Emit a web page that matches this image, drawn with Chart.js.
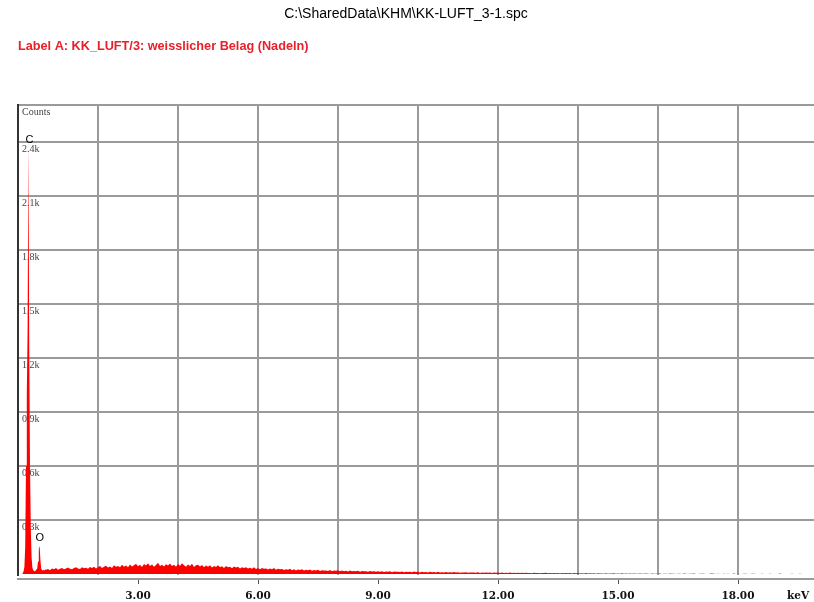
<!DOCTYPE html>
<html>
<head>
<meta charset="utf-8">
<script src="https://cdn.jsdelivr.net/npm/chart.js@4/dist/chart.umd.min.js"></script>
<style>
  html, body { margin: 0; padding: 0; background: #ffffff; }
  #wrap { width: 814px; height: 602px; }
</style>
</head>
<body>
<div id="wrap"><canvas id="spec" width="814" height="602"></canvas></div>
<script>
// EDS spectrum: C:\SharedData\KHM\KK-LUFT_3-1.spc

const fileTitle = 'C:\\SharedData\\KHM\\KK-LUFT_3-1.spc';
const sampleLabel = 'Label A: KK_LUFT/3: weisslicher Belag (Nadeln)';

// Low-energy channels: 0.00 keV upward, 0.02 keV per channel
const lowStartKeV = 0.0;
const lowStepKeV = 0.02;
const lowCounts = [
  0, 0, 0, 0, 0, 2, 6, 15, 40, 150,           // 0.00 - 0.18
  600, 1000, 1350, 2390, 1300, 600, 250, 90, 35, 22, // 0.20 - 0.38
  17, 16, 18, 25, 30, 70, 140, 155, 80, 30,   // 0.40 - 0.58
  22, 20, 24, 19, 25                           // 0.60 - 0.68
];

// Remaining channels: 0.70 keV upward, 0.05 keV per channel
const mainStartKeV = 0.70;
const mainStepKeV = 0.05;
const mainCounts = [
  24,28,21,30,26,33,24,29,34,27,31,36,29,26,34,38,30,28,37,32, // 0.70
  35,29,39,33,41,31,37,44,34,40,46,36,42,33,48,40,45,37,51,41, // 1.70
  47,38,53,42,49,57,43,51,39,55,47,60,44,53,41,50,63,45,52,42, // 2.70
  54,47,58,44,51,40,56,46,60,49,41,53,45,57,39,48,52,42,50,38, // 3.70
  47,41,49,36,44,39,48,37,43,33,45,38,41,32,42,36,40,31,37,33, // 4.70
  38,30,35,29,37,28,33,26,34,29,31,25,30,27,33,23,29,26,28,22, // 5.70
  27,23,29,21,26,20,25,22,27,19,23,21,25,18,22,20,24,17,21,19, // 6.70
  20,17,22,16,19,18,21,15,19,16,18,14,20,15,17,16,18,13,17,15, // 7.70
  16,13,17,14,15,12,16,13,15,11,14,13,15,10,14,12,13,11,14,10, // 8.70
  13,11,12,10,14,11,12,9,13,10,11,9,12,10,11,8,12,9,10,9,      // 9.70
  11,8,10,9,11,8,10,7,9,8,10,7,9,8,9,7,10,6,8,7,               // 10.70
  9,7,8,6,9,7,8,6,8,5,7,6,8,5,7,6,7,5,7,5,                     // 11.70
  7,5,6,4,7,5,6,4,6,5,7,4,6,4,5,4,6,3,5,4,                     // 12.70
  5,4,6,3,5,4,5,3,4,3,5,3,4,3,4,2,4,3,3,2,                     // 13.70
  4,2,3,3,4,2,3,2,4,2,3,1,3,2,3,1,2,3,2,1,                     // 14.70
  3,2,0,3,2,1,2,3,0,2,2,0,3,1,2,0,2,2,0,3,                     // 15.70
  2,0,2,1,3,0,0,2,1,2,0,0,2,3,1,0,2,0,0,2,                     // 16.70
  0,2,0,0,3,0,2,0,0,2,1,0,0,2,2,0,0,0,2,0,                     // 17.70
  0,0,2,0,0,0,0,3,0,0,0,0,0,2,0,0,0,2,0,0,                     // 18.70
  0,0,0,0                                                      // 19.70
];

// Element markers (line energy in keV, peak counts)
const elementLabels = ['C', 'O'];
const elementKeV = [0.26, 0.52];
const elementCounts = [2390, 155];

// Axis settings
const countTicks = [300, 600, 900, 1200, 1500, 1800, 2100, 2400];
const keVTicks = [3, 6, 9, 12, 15, 18];
const keVMax = 19.9;
const countsMin = -5.5;
const countsMax = 2605.5;

const points = [];
lowCounts.forEach((c, i) => points.push({ x: +(lowStartKeV + i * lowStepKeV).toFixed(3), y: c }));
mainCounts.forEach((c, i) => points.push({ x: +(mainStartKeV + i * mainStepKeV).toFixed(3), y: c }));

const annotate = {
  id: 'annotate',
  afterDraw(chart) {
    const ctx = chart.ctx;
    const xs = chart.scales.x, ys = chart.scales.y;
    ctx.save();
    ctx.textBaseline = 'middle';
    ctx.fillStyle = '#000000';
    ctx.font = '14px "Liberation Sans", Arial, sans-serif';
    ctx.textAlign = 'center';
    ctx.fillText(fileTitle, 406, 14);

    ctx.fillStyle = '#e8202a';
    ctx.font = 'bold 12.7px "Liberation Sans", Arial, sans-serif';
    ctx.textAlign = 'left';
    ctx.fillText(sampleLabel, 18, 46);

    ctx.fillStyle = '#111111';
    ctx.font = 'bold 10.5px "DejaVu Serif", serif';
    ctx.textAlign = 'center';
    ctx.fillText('keV', 798, 596);

    ctx.fillStyle = '#000000';
    ctx.font = '11px "Liberation Sans", Arial, sans-serif';
    ctx.textBaseline = 'alphabetic';
    elementLabels.forEach((lab, i) => {
      const px = xs.getPixelForValue(elementKeV[i]);
      const py = ys.getPixelForValue(elementCounts[i]);
      ctx.fillText(lab, px + 1, py - (i === 0 ? 1 : 5));
    });
    ctx.restore();
  }
};

new Chart(document.getElementById('spec'), {
  type: 'line',
  data: {
    datasets: [{
      data: points,
      xAxisID: 'x',
      yAxisID: 'y',
      fill: 'origin',
      backgroundColor: '#ff0000',
      borderWidth: 0,
      pointRadius: 0,
      tension: 0
    }]
  },
  options: {
    responsive: false,
    devicePixelRatio: 1,
    animation: false,
    layout: { padding: { top: 105, left: 0, right: 0, bottom: 0 } },
    plugins: { legend: { display: false }, tooltip: { enabled: false }, title: { display: false } },
    scales: {
      x: {
        type: 'linear',
        position: 'bottom',
        min: 0,
        max: keVMax,
        afterFit(s) { s.height = 4; },
        ticks: { display: false, stepSize: 2, includeBounds: false },
        border: { display: false },
        grid: { color: '#9a9a9a', lineWidth: 2, drawTicks: false }
      },
      xt: {
        type: 'linear',
        position: 'bottom',
        min: 0,
        max: keVMax,
        afterFit(s) { s.height = 23; },
        afterBuildTicks(s) { s.ticks = keVTicks.map(v => ({ value: v })); },
        ticks: {
          padding: 6,
          maxRotation: 0,
          autoSkip: false,
          color: '#111111',
          font: { family: '"DejaVu Serif", serif', size: 10.5, weight: 'bold' },
          callback: v => Number(v).toFixed(2)
        },
        border: { display: true, color: '#9a9a9a', width: 2 },
        grid: { drawOnChartArea: false, drawTicks: true, tickLength: 5, color: '#555555', lineWidth: 1 }
      },
      y: {
        type: 'linear',
        position: 'left',
        min: countsMin,
        max: countsMax,
        afterFit(s) { s.width = 18; },
        afterBuildTicks(s) { s.ticks = countTicks.concat([countsMax]).map(v => ({ value: v })); },
        ticks: {
          mirror: true,
          padding: 4,
          labelOffset: 7,
          color: '#444444',
          font: { family: '"Liberation Serif", serif', size: 10 },
          callback: v => (v > 2500 ? 'Counts' : (v / 1000).toFixed(1) + 'k')
        },
        border: { display: true, color: '#333333', width: 2 },
        grid: { color: '#9a9a9a', lineWidth: 2, drawTicks: false }
      }
    }
  },
  plugins: [annotate]
});
</script>
</body>
</html>
